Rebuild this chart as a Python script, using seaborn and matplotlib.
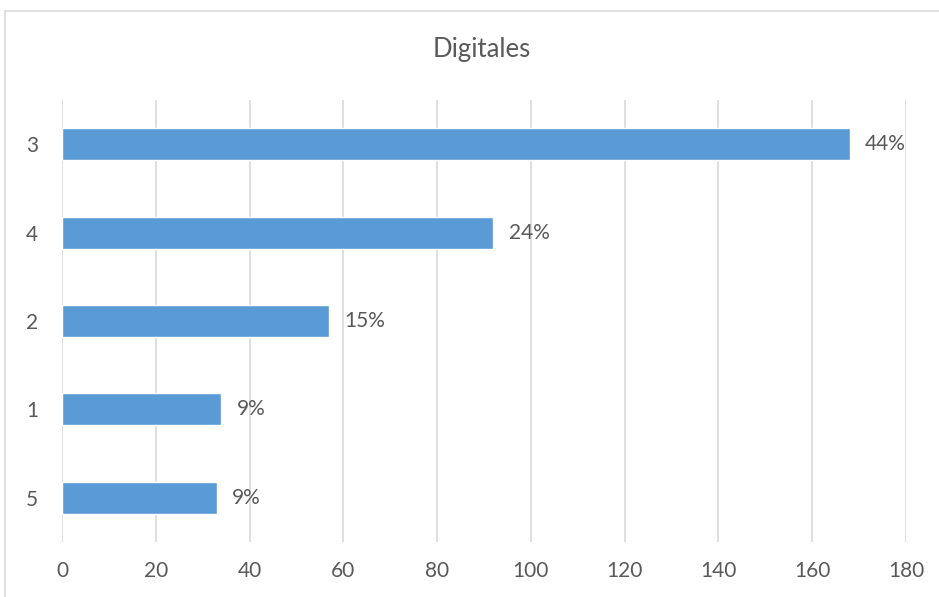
import pandas as pd
import numpy as np
import matplotlib
matplotlib.use("Agg")
import matplotlib.pyplot as plt
import seaborn as sns
from matplotlib.patches import Rectangle

categories = ["3", "4", "2", "1", "5"]
values = [168, 92, 57, 34, 33]
x_ticks = [0, 20, 40, 60, 80, 100, 120, 140, 160, 180]

data = pd.DataFrame({"cat": categories, "val": values})
pct = [f"{round(v / sum(values) * 100)}%" for v in values]

sns.set_theme(style="white")
plt.rcParams["font.family"] = ["Lato", "DejaVu Sans"]
txt = "#595959"

fig = plt.figure(figsize=(9.39, 5.97), dpi=100)
ax = fig.add_axes([62 / 939, 1 - 542 / 597, 844 / 939, 442 / 597])

sns.barplot(x="val", y="cat", data=data, order=categories, color="#5B9BD5",
            saturation=1, width=0.36, ax=ax)

ax.set_xlim(0, 180)
ax.set_xticks(x_ticks)
ax.grid(axis="x", color="#D9D9D9", linewidth=1.2)
ax.set_axisbelow(True)
for s in ax.spines.values():
    s.set_visible(False)
ax.set_xlabel("")
ax.set_ylabel("")
ax.tick_params(axis="x", length=0, pad=14, labelsize=15, labelcolor=txt)
ax.tick_params(axis="y", length=0, pad=17, labelsize=15, labelcolor=txt)

ax.bar_label(ax.containers[0], labels=pct, padding=11, fontsize=15, color=txt)

fig.text(0.513, 1 - 50 / 597, "Digitales", ha="center", va="center",
         fontsize=18.5, color=txt)

# chart frame
fig.patches.append(Rectangle((5 / 939, -0.1), 1.2, 1 - 11 / 597 + 0.1,
                             transform=fig.transFigure, fill=False,
                             edgecolor="#D9D9D9", linewidth=1.2))

plt.savefig("out.png", dpi=100)
